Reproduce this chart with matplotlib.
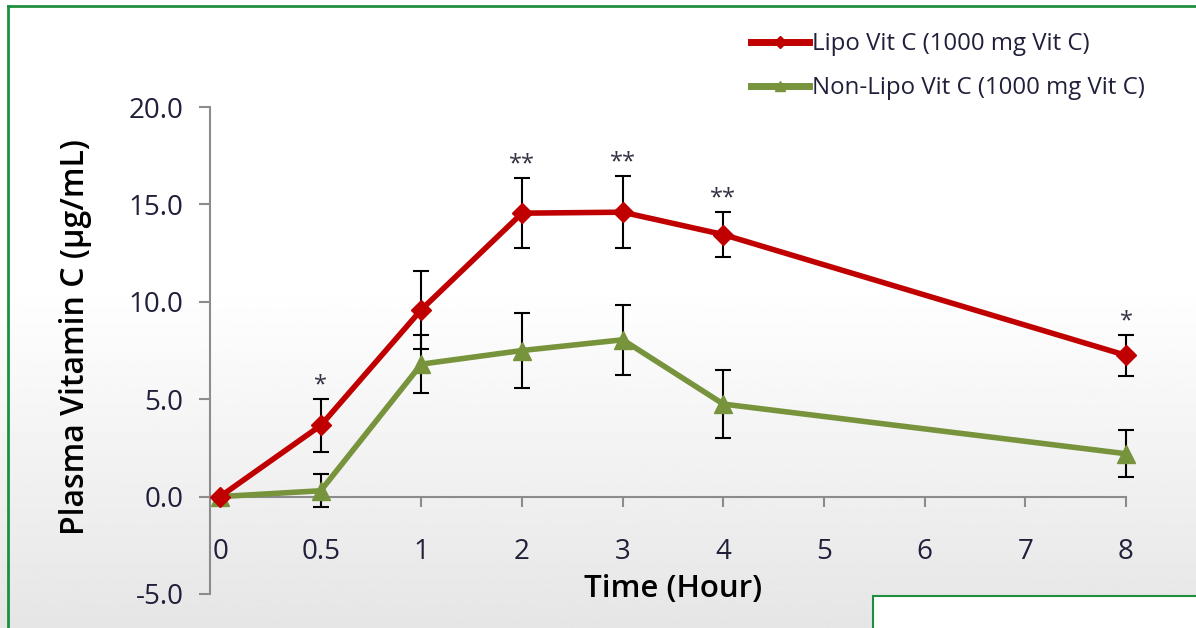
import numpy as np
import matplotlib
matplotlib.use('Agg')
import matplotlib.pyplot as plt
from matplotlib.lines import Line2D
from matplotlib.patches import Rectangle

plt.rcParams['font.family'] = ['Open Sans', 'DejaVu Sans']

# categorias del eje x (espaciado igual, como en Excel)
x_labels = ['0', '0.5', '1', '2', '3', '4', '5', '6', '7', '8']
hours = ['0', '0.5', '1', '2', '3', '4', '8']

lipo = [0.0, 3.65, 9.6, 14.55, 14.6, 13.45, 7.25]
lipo_err = [0.0, 1.35, 2.0, 1.8, 1.85, 1.15, 1.05]
nonlipo = [0.0, 0.3, 6.8, 7.5, 8.05, 4.75, 2.2]
nonlipo_err = [0.0, 0.85, 1.5, 1.95, 1.8, 1.75, 1.2]
signif = ['', '*', '', '**', '**', '**', '*']

y_ticks = [-5.0, 0.0, 5.0, 10.0, 15.0, 20.0]

red = '#c00000'
green = '#77933c'
axis_col = '#8c8c8c'
border = '#1f8f3f'
txt = '#20203a'

W, H = 1196, 628
fig = plt.figure(figsize=(W / 100, H / 100), dpi=100)

# fondo degradado blanco -> gris
bg = fig.add_axes([0, 0, 1, 1], zorder=-10)
grad = np.ones((256, 1))
yy = np.linspace(0, 1, 256)  # 0 arriba, 1 abajo
grad[:, 0] = np.where(yy < 0.45, 1.0, 1.0 - (yy - 0.45) / 0.55 * 0.10)
bg.imshow(grad, aspect='auto', cmap='gray', vmin=0, vmax=1, extent=[0, 1, 0, 1])
bg.set_axis_off()

ax = fig.add_axes([210 / W, 1 - 594 / H, (1126 - 210) / W, (594 - 107) / H])
ax.patch.set_alpha(0)

xi = [x_labels.index(h) for h in hours]

ax.errorbar(xi, lipo, yerr=lipo_err, fmt='none', ecolor='black', elinewidth=1.5,
            capsize=6, capthick=1.5, zorder=3, clip_on=False)
ax.errorbar(xi, nonlipo, yerr=nonlipo_err, fmt='none', ecolor='black', elinewidth=1.5,
            capsize=6, capthick=1.5, zorder=3, clip_on=False)

ax.plot(xi, nonlipo, color=green, lw=4, marker='^', ms=13, zorder=4, clip_on=False)
ax.plot(xi, lipo, color=red, lw=4, marker='D', ms=10, zorder=5, clip_on=False)

for x, y, e, s in zip(xi, lipo, lipo_err, signif):
    if s:
        ax.annotate(s, (x, y + e), xytext=(0, 10), textcoords='offset points',
                    ha='center', va='center', fontsize=17, color='#333344')

ax.set_xlim(-0.1, 9)
ax.set_ylim(-5, 20)
ax.set_yticks(y_ticks)
ax.set_yticklabels(['%.1f' % v for v in y_ticks])
ax.set_xticks(range(len(x_labels)))
ax.set_xticklabels(x_labels)

ax.spines['top'].set_visible(False)
ax.spines['right'].set_visible(False)
ax.spines['bottom'].set_position(('data', 0))
for sp in ['left', 'bottom']:
    ax.spines[sp].set_color(axis_col)
    ax.spines[sp].set_linewidth(1.5)
ax.tick_params(axis='y', direction='out', length=8, width=1.5, color=axis_col,
               labelsize=20, pad=11, labelcolor=txt)
ax.tick_params(axis='x', direction='out', length=7, width=1.5, color=axis_col,
               labelsize=20, pad=23, labelcolor=txt)

ax.set_ylabel('Plasma Vitamin C (μg/mL)', fontsize=23, fontweight='semibold',
              va='center', color='black')
ax.yaxis.set_label_coords(-0.147, 0.528)
ax.set_xlabel('Time (Hour)', fontsize=22.5, fontweight='semibold', va='center',
              color='black')
ax.xaxis.set_label_coords(0.506, 0.01)

handles = [Line2D([], [], color=red, lw=5, marker='D', ms=6),
           Line2D([], [], color=green, lw=5, marker='^', ms=7)]
fig.legend(handles, ['Lipo Vit C (1000 mg Vit C)', 'Non-Lipo Vit C (1000 mg Vit C)'],
           loc='upper left', bbox_to_anchor=(751 / W, 1 - 32 / H), frameon=False,
           fontsize=17.3, handlelength=2.4, handletextpad=0.15, labelspacing=0.85,
           borderpad=0, borderaxespad=0, labelcolor=txt)

# marco verde
fig.add_artist(Line2D([8 / W, 1], [1 - 6 / H, 1 - 6 / H], color=border, lw=2))
fig.add_artist(Line2D([8 / W, 8 / W], [0, 1 - 6 / H], color=border, lw=2))
fig.add_artist(Rectangle((873 / W, -0.01), 1, (628 - 596) / H + 0.01, facecolor='white',
                         edgecolor=border, lw=1.5, transform=fig.transFigure))

fig.savefig('out.png', dpi=100)
